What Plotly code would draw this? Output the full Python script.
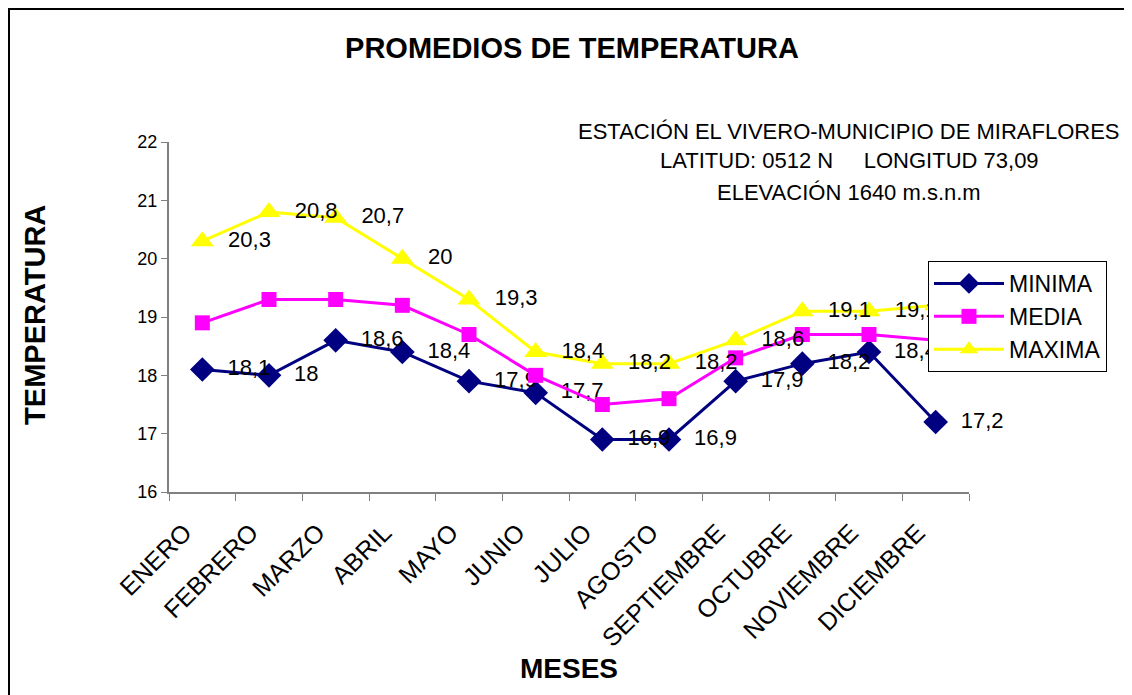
import plotly.graph_objects as go

# ── DATA ───────────────────────────────────────────────
MESES = ['ENERO', 'FEBRERO', 'MARZO', 'ABRIL', 'MAYO', 'JUNIO', 'JULIO',
         'AGOSTO', 'SEPTIEMBRE', 'OCTUBRE', 'NOVIEMBRE', 'DICIEMBRE']
MINIMA = [18.1, 18.0, 18.6, 18.4, 17.9, 17.7, 16.9, 16.9, 17.9, 18.2, 18.4, 17.2]
MEDIA = [18.9, 19.3, 19.3, 19.2, 18.7, 18.0, 17.5, 17.6, 18.3, 18.7, 18.7, 18.6]
MAXIMA = [20.3, 20.8, 20.7, 20.0, 19.3, 18.4, 18.2, 18.2, 18.6, 19.1, 19.1, 19.2]

SUBTITLE = ['ESTACIÓN EL VIVERO-MUNICIPIO DE MIRAFLORES',
            'LATITUD: 0512 N\u00a0\u00a0\u00a0\u00a0\u00a0LONGITUD 73,09',
            'ELEVACIÓN 1640 m.s.n.m']

FONT = 'Liberation Sans, Arial, sans-serif'
PAD = '\u00a0' * 2

# page has an 8px body margin, so the figure is drawn 8px in from the corner
W, H = 1124, 687


def fmt(v):
    # Excel style: comma decimal, drop trailing ,0
    s = f'{v:.1f}'.rstrip('0').rstrip('.')
    return PAD + s.replace('.', ',')


fig = go.Figure()

series = [
    ('MINIMA', MINIMA, '#000080', 'diamond', 19, True),
    ('MEDIA', MEDIA, '#ff00ff', 'square', 15, False),
    ('MAXIMA', MAXIMA, '#ffff00', 'triangle-up', 20, True),
]
for name, vals, color, sym, size, labels in series:
    fig.add_trace(go.Scatter(
        x=MESES, y=vals, name=name,
        mode='lines+markers+text' if labels else 'lines+markers',
        line=dict(color=color, width=3),
        marker=dict(symbol=sym, size=size, color=color),
        text=[fmt(v) for v in vals] if labels else None,
        textposition='middle right',
        textfont=dict(family=FONT, size=22, color='#000000'),
        cliponaxis=False,
    ))

# subtitle block, one annotation per line
annotations = []
for i, line in enumerate(SUBTITLE):
    annotations.append(dict(
        text=line, xref='paper', yref='paper', x=0.85, y=[1.031, 0.946, 0.857][i],
        xanchor='center', yanchor='middle', showarrow=False,
        font=dict(family=FONT, size=22, color='#000000'),
    ))
annotations.append(dict(
    text='<b>TEMPERATURA</b>', xref='paper', yref='paper', x=-0.1675, y=0.506,
    textangle=-90, xanchor='center', yanchor='middle', showarrow=False,
    font=dict(family=FONT, size=29, color='#000000'),
))
annotations.append(dict(
    text='<b>MESES</b>', xref='paper', yref='paper', x=0.5, y=-0.503,
    xanchor='center', yanchor='middle', showarrow=False,
    font=dict(family=FONT, size=28, color='#000000'),
))

fig.update_layout(
    width=W, height=H,
    margin=dict(l=161, r=163, t=134, b=203),
    paper_bgcolor='#ffffff', plot_bgcolor='#ffffff',
    font=dict(family=FONT, color='#000000'),
    title=dict(
        text='<b>PROMEDIOS DE TEMPERATURA</b>',
        x=(572 - 8) / W, xanchor='center', y=1 - 40 / H, yanchor='middle',
        font=dict(family=FONT, size=29, color='#000000'),
    ),
    showlegend=True,
    legend=dict(
        x=0.94875, y=0.66, xanchor='left', yanchor='top',
        bgcolor='#ffffff', bordercolor='#000000', borderwidth=1,
        font=dict(family=FONT, size=23, color='#000000'),
        itemwidth=70, itemsizing='trace',
    ),
    xaxis=dict(
        type='category', range=[-0.5, 11.5], tickson='boundaries',
        ticks='outside', ticklen=7, tickcolor='#808080',
        showline=True, linecolor='#808080', linewidth=2,
        showgrid=False, zeroline=False, tickangle=-45,
        ticklabelshift=-18, ticklabelstandoff=14,
        tickfont=dict(family=FONT, size=25, color='#000000'),
    ),
    yaxis=dict(
        range=[16, 22], dtick=1,
        ticks='outside', ticklen=6, tickcolor='#808080',
        showline=True, linecolor='#808080', linewidth=2,
        showgrid=False, zeroline=False,
        tickfont=dict(family=FONT, size=18, color='#000000'),
    ),
    annotations=annotations,
    shapes=[dict(
        type='rect', xref='paper', yref='paper',
        x0=-0.2, x1=1.4, y0=-1.0, y1=1.38,
        line=dict(color='#000000', width=2), fillcolor='rgba(0,0,0,0)',
        layer='below',
    )],
)

fig.write_html('out.html')
